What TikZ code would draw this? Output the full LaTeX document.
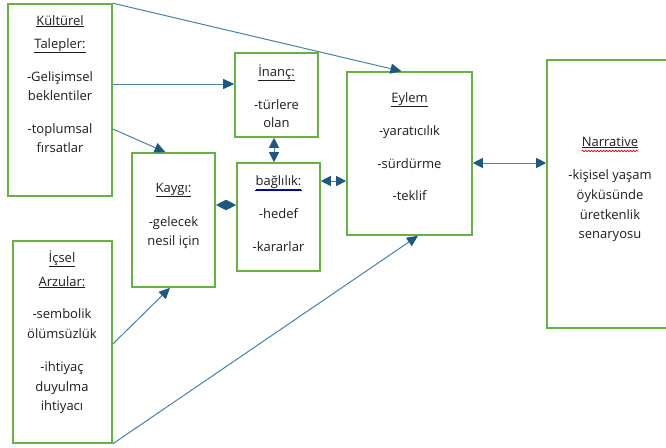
\documentclass[tikz,border=0pt]{standalone}
\usepackage{fontspec}
\setmainfont{Open Sans}
\usetikzlibrary{arrows.meta,decorations.pathmorphing}
\definecolor{boxgreen}{RGB}{100,178,66}
\definecolor{linecol}{RGB}{70,130,170}
\definecolor{headcol}{RGB}{28,88,128}
\definecolor{txtcol}{RGB}{30,30,30}
\tikzset{
  box/.style={draw=boxgreen, line width=1.6pt, fill=white, inner sep=0pt},
  txt/.style={anchor=base, text=txtcol, font=\fontsize{13}{15}\selectfont, inner sep=0pt},
  tip/.style={Triangle[length=11pt,width=10pt,fill=headcol,color=headcol]},
  arr/.style={draw=linecol, line width=1pt, -{Triangle[length=11pt,width=10pt,fill=headcol,color=headcol]}},
  darr/.style={draw=linecol, line width=1pt, {Triangle[length=10pt,width=10pt,fill=headcol,color=headcol]}-{Triangle[length=10pt,width=10pt,fill=headcol,color=headcol]}}
}
\begin{document}
\begin{tikzpicture}[x=1pt,y=-1pt]
\useasboundingbox (0,0) rectangle (666,447);
\clip (0,0) rectangle (666,447);
% boxes
\node[box, minimum width=104pt, minimum height=192pt] (kult) at (60,100) {};
\node[box, minimum width=99pt, minimum height=202pt] (icsel) at (62.5,342) {};
\node[box, minimum width=83pt, minimum height=134pt] (kaygi) at (173.5,220) {};
\node[box, minimum width=83pt, minimum height=108pt] (bag) at (278.5,217) {};
\node[box, minimum width=83pt, minimum height=84pt] (inanc) at (276.5,95) {};
\node[box, minimum width=125pt, minimum height=163pt] (eylem) at (409.5,153.5) {};
\node[box, minimum width=128pt, minimum height=268pt] (narr) at (611,194) {};
% texts
\node[txt] (k1) at (60,25) {\underline{Kültürel}};
\node[txt] (k2) at (60,48) {\underline{Talepler:}};
\node[txt] (k3) at (60,81) {-Gelişimsel};
\node[txt] (k4) at (60,100) {beklentiler};
\node[txt] (k5) at (60,133) {-toplumsal};
\node[txt] (k6) at (60,152) {fırsatlar};
\node[txt] (i1) at (62,262) {\underline{İçsel}};
\node[txt] (i2) at (62,286) {\underline{Arzular:}};
\node[txt] (i3) at (62,318) {-sembolik};
\node[txt] (i4) at (62,338) {ölümsüzlük};
\node[txt] (i5) at (62,371) {-ihtiyaç};
\node[txt] (i6) at (62,391) {duyulma};
\node[txt] (i7) at (62,410) {ihtiyacı};
\node[txt] (g1) at (173.5,192) {\underline{Kaygı:}};
\node[txt] (g2) at (173.5,226) {-gelecek};
\node[txt] (g3) at (173.5,245) {nesil için};
\node[txt] (n1) at (276.5,76) {\underline{İnanç:}};
\node[txt] (n2) at (276.5,109) {-türlere};
\node[txt] (n3) at (276.5,127) {olan};
\node[txt] (b1) at (278.5,185) {\underline{bağlılık:}};
\node[txt] (b2) at (278.5,218) {-hedef};
\node[txt] (b3) at (278.5,251) {-kararlar};
\node[txt] (e1) at (409.5,102) {\underline{Eylem}};
\node[txt] (e2) at (409.5,135) {-yaratıcılık};
\node[txt] (e3) at (409.5,168) {-sürdürme};
\node[txt] (e4) at (409.5,200) {-teklif};
\node[txt] (r1) at (610,146) {\underline{Narrative}};
\node[txt] (r2) at (610,179) {-kişisel yaşam};
\node[txt] (r3) at (610,199) {öyküsünde};
\node[txt] (r4) at (610,219) {üretkenlik};
\node[txt] (r5) at (610,238) {senaryosu};
% spell-check marks
\draw[red!85!black, line width=0.6pt, decorate, decoration={snake, amplitude=0.8pt, segment length=3pt}]
  ([yshift=-5pt]r1.base west) -- ([yshift=-5pt]r1.base east);
\draw[blue!60!black, line width=0.4pt] ([yshift=-5.6pt]b1.base west) -- ([yshift=-5.6pt]b1.base east);
% connectors
\draw[arr] (kult.north east) -- ([xshift=-8pt]eylem.north);
\draw[arr] (kult.east |- 0,84) -- (inanc.west |- 0,84);
\draw[arr] (kult.east |- 0,129) -- ([xshift=-8pt]kaygi.north);
\draw[darr] (inanc.south -| 274,0) -- (bag.north -| 274,0);
\draw[darr] (kaygi.east |- 0,205) -- (bag.west |- 0,205);
\draw[darr] (bag.east |- 0,181) -- (eylem.west |- 0,181);
\draw[darr] (eylem.east |- 0,163) -- (narr.west |- 0,163);
\draw[arr] (icsel.east |- 0,344) -- (kaygi.south -| 170,0);
\draw[arr] (icsel.south east) -- (eylem.south -| 418,0);
\end{tikzpicture}
\end{document}
